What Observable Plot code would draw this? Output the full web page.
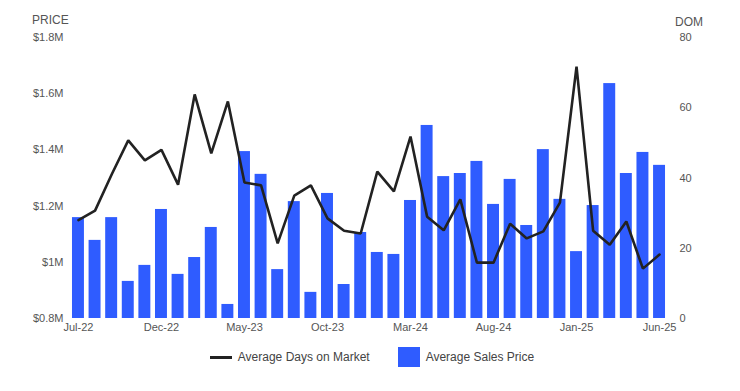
<!DOCTYPE html>
<html>
<head>
<meta charset="utf-8">
<script src="https://cdn.jsdelivr.net/npm/d3@7"></script>
<script src="https://cdn.jsdelivr.net/npm/@observablehq/plot@0.6"></script>
<style>
  html, body { margin: 0; padding: 0; background: #fff; }
  body { width: 740px; height: 391px; overflow: hidden; font-family: "Liberation Sans", Arial, sans-serif; }
  #wrap { position: relative; width: 740px; }
  .axtitle { position: absolute; font-size: 12px; color: #555; }
  #legend { display: flex; justify-content: center; align-items: center; height: 34px; font-size: 12px; color: #444; padding-left: 4px; }
  .item { display: flex; align-items: center; margin: 0 14px; }
  .lineSw { width: 22px; height: 3px; background: #222; margin-right: 6px; }
  .boxSw { width: 22px; height: 20px; background: #2f5cff; margin-right: 6px; }
</style>
</head>
<body>
<div id="wrap">
  <div class="axtitle" style="left:32px; top:13px;">PRICE</div>
  <div class="axtitle" style="left:675px; top:15px;">DOM</div>
  <div id="chart"></div>
</div>
<div id="legend">
  <div class="item"><div class="lineSw"></div><span>Average Days on Market</span></div>
  <div class="item"><div class="boxSw"></div><span>Average Sales Price</span></div>
</div>
<script>
const months = ["Jul-22","Aug-22","Sep-22","Oct-22","Nov-22","Dec-22",
  "Jan-23","Feb-23","Mar-23","Apr-23","May-23","Jun-23","Jul-23","Aug-23","Sep-23","Oct-23","Nov-23","Dec-23",
  "Jan-24","Feb-24","Mar-24","Apr-24","May-24","Jun-24","Jul-24","Aug-24","Sep-24","Oct-24","Nov-24","Dec-24",
  "Jan-25","Feb-25","Mar-25","Apr-25","May-25","Jun-25"];
const avgPrice = [1.159,1.078,1.159,0.932,0.989,1.188,
  0.957,1.017,1.124,0.850,1.394,1.313,0.974,1.216,0.893,1.245,0.921,1.106,
  1.035,1.028,1.220,1.487,1.305,1.316,1.359,1.206,1.295,1.131,1.401,1.224,
  1.038,1.202,1.636,1.316,1.391,1.345].map(v => v * 1e6);
const avgDOM = [28,30.7,41,50.7,45,48,
  38.1,63.8,47,61.8,38.7,37.9,21.4,35,37.9,28.5,25,24.2,
  41.8,36.2,51.8,29,25.1,33.9,15.9,15.9,27,22.8,24.8,33,
  71.7,25,21,27.6,14.2,18.2];
const xTicks = ["Jul-22","Dec-22","May-23","Oct-23","Mar-24","Aug-24","Jan-25","Jun-25"];
const priceTicks = [0.8e6,1.0e6,1.2e6,1.4e6,1.6e6,1.8e6];
const domTicks = [0,20,40,60,80];

const priceMin = 0.8e6, priceMax = 1.8e6, domMax = 80;
const domToPrice = d => priceMin + d / domMax * (priceMax - priceMin);

const data = months.map((m, i) => ({month: m, price: avgPrice[i], dom: avgDOM[i], domScaled: domToPrice(avgDOM[i])}));

const chart = Plot.plot({
  width: 740,
  height: 340,
  marginLeft: 67,
  marginRight: 70,
  marginTop: 37,
  marginBottom: 22,
  style: {fontFamily: "Liberation Sans, Arial, sans-serif", fontSize: "11px", color: "#555", background: "#fff"},
  x: {type: "band", domain: months, paddingInner: 0.28, paddingOuter: 0.3, round: false},
  y: {domain: [priceMin, priceMax]},
  marks: [
    Plot.barY(data, {x: "month", y1: () => priceMin, y2: "price", fill: "#2f5cff"}),
    Plot.line(data, {x: "month", y: "domScaled", stroke: "#222", strokeWidth: 2.6, strokeLinejoin: "miter"}),
    Plot.axisX(xTicks, {tickSize: 0, tickPadding: 5, label: null, fill: "#555"}),
    Plot.axisY(priceTicks, {anchor: "left", tickSize: 0, tickPadding: 4, label: null,
      tickFormat: d => "$" + (+(d / 1e6).toFixed(1)) + "M", fill: "#555"}),
    Plot.axisY(domTicks.map(domToPrice), {anchor: "right", tickSize: 0, tickPadding: 9, label: null,
      tickFormat: d => String(Math.round((d - priceMin) / (priceMax - priceMin) * domMax)), fill: "#555"})
  ]
});
document.getElementById("chart").appendChild(chart);
</script>
</body>
</html>
